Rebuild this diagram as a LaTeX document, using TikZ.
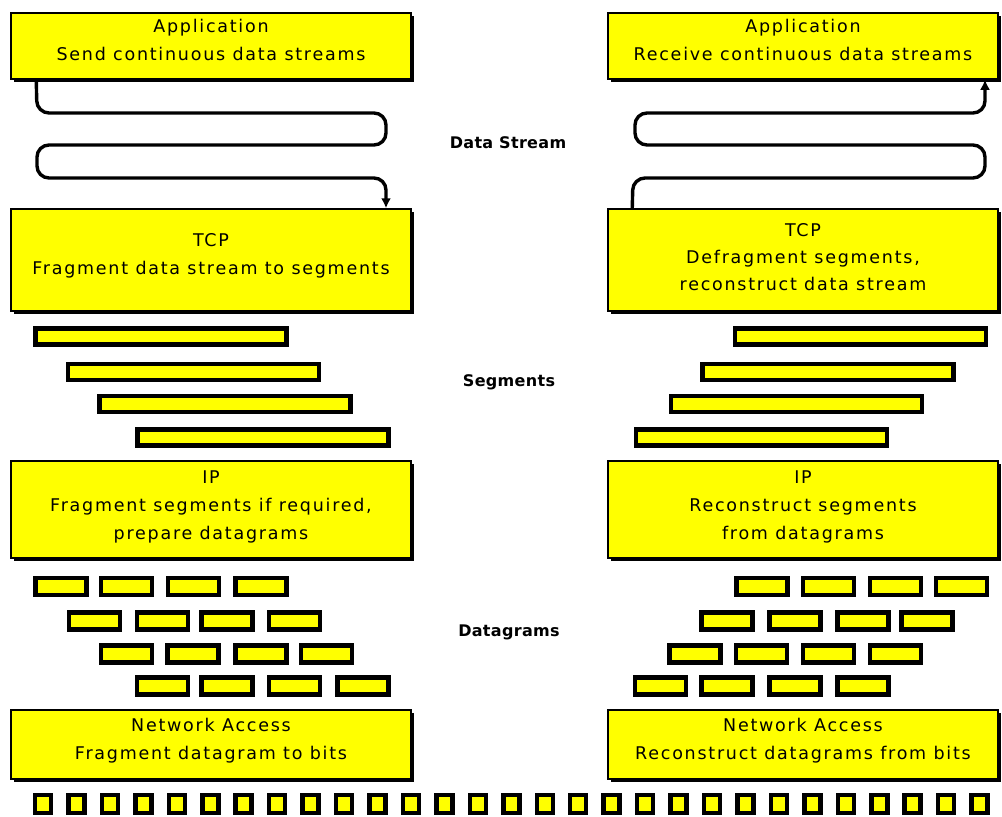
\documentclass[tikz,border=0pt]{standalone}
\usepackage{fontspec}
\setmainfont{DejaVu Sans}
\newfontfamily\boxfont[LetterSpace=10]{DejaVu Sans}
\newfontfamily\tagfont[LetterSpace=2]{DejaVu Sans Bold}
\usetikzlibrary{shadows,arrows.meta}

\definecolor{layer}{RGB}{255,255,0}

\tikzset{
  x=1pt, y=-1pt,
  layerbox/.style={draw=black, line width=1.5pt, fill=layer,
    minimum width=400pt, minimum height=66pt, inner sep=0pt,
    drop shadow={shadow xshift=3pt, shadow yshift=-3pt, opacity=1, fill=black}},
  layertext/.style={align=center, inner sep=0pt,
    font=\boxfont\fontsize{17.5}{28}\selectfont},
  segbox/.style={draw=black, line width=4.5pt, fill=layer,
    minimum width=251pt, minimum height=16pt, inner sep=0pt,
    drop shadow={shadow xshift=1.5pt, shadow yshift=-1.5pt, opacity=1, fill=black}},
  gram/.style={draw=black, line width=4.5pt, fill=layer,
    minimum width=51pt, minimum height=17pt, inner sep=0pt,
    drop shadow={shadow xshift=1.5pt, shadow yshift=-1.5pt, opacity=1, fill=black}},
  bitbox/.style={draw=black, line width=4.5pt, fill=layer,
    minimum width=16pt, minimum height=18pt, inner sep=0pt},
  tag/.style={font=\tagfont\fontsize{16}{18}\selectfont, inner sep=0pt},
  stream/.style={draw=black, line width=3.4pt, rounded corners=12pt,
    -{Latex[length=10pt,width=10pt]}},
}

\begin{document}
\begin{tikzpicture}
\useasboundingbox (0,0) rectangle (1002,817);

% ---- layer boxes, sending side ----
\node[layerbox] (appL) at (211,46) {};
\node[layerbox, minimum height=102pt] (tcpL) at (211,260) {};
\node[layerbox, minimum height=97pt] (ipL) at (211,509.5) {};
\node[layerbox, minimum height=69pt] (naL) at (211,744.5) {};

% ---- layer boxes, receiving side ----
\node[layerbox, minimum width=390pt] (appR) at (803,46) {};
\node[layerbox, minimum width=390pt, minimum height=102pt] (tcpR) at (803,260) {};
\node[layerbox, minimum width=390pt, minimum height=97pt] (ipR) at (803,509.5) {};
\node[layerbox, minimum width=390pt, minimum height=69pt] (naR) at (803,744.5) {};

% ---- layer texts ----
\node[layertext] (appLt) at ([yshift=6pt]appL.center)
  {Application\\Send continuous data streams};
\node[layertext] (tcpLt) at ([yshift=4pt]tcpL.center)
  {TCP\\Fragment data stream to segments};
\node[layertext] (ipLt) at ([yshift=3pt]ipL.center)
  {IP\\Fragment segments if required,\\prepare datagrams};
\node[layertext] (naLt) at ([yshift=4pt]naL.center)
  {Network Access\\Fragment datagram to bits};
\node[layertext] (appRt) at ([yshift=6pt]appR.center)
  {Application\\Receive continuous data streams};
\node[layertext, font=\boxfont\fontsize{17.5}{27}\selectfont] (tcpRt) at ([yshift=3pt]tcpR.center)
  {TCP\\Defragment segments,\\reconstruct data stream};
\node[layertext] (ipRt) at ([yshift=3pt]ipR.center)
  {IP\\Reconstruct segments\\from datagrams};
\node[layertext] (naRt) at ([yshift=4pt]naR.center)
  {Network Access\\Reconstruct datagrams from bits};

% ---- data stream between application and TCP ----
\draw[stream] ([xshift=26pt]appL.south west) -- (37,113) -- (386,113)
  -- (386,145) -- (37,145) -- (37,178) -- (386,178)
  -- (tcpL.north west -| 386,0);
\draw[stream] ([xshift=25pt]tcpR.north west) -- (633,178) -- (985,178)
  -- (985,145) -- (635,145) -- (635,113) -- (985,113)
  -- (appR.south west -| 985,0);
\node[tag] (lblStream) at (508,143) {Data Stream};

% ---- segments ----
\node[segbox] (sL1) at (161,336.5) {};
\node[segbox] (sL2) at (193.5,372) {};
\node[segbox] (sL3) at (225,404) {};
\node[segbox] (sL4) at (263,437.5) {};
\node[segbox] (sR1) at (860.5,336.5) {};
\node[segbox] (sR2) at (828,372) {};
\node[segbox] (sR3) at (796.5,404) {};
\node[segbox] (sR4) at (761.5,437.5) {};
\node[tag] (lblSeg) at (509,382) {Segments};

% ---- datagrams ----
\foreach \x [count=\i] in {61,126.5,193.5,261}
  \node[gram] (gL1\i) at (\x,586.5) {};
\foreach \x [count=\i] in {94.5,162.5,227,294.5}
  \node[gram] (gL2\i) at (\x,621) {};
\foreach \x [count=\i] in {126.5,193,261,326.5}
  \node[gram] (gL3\i) at (\x,654) {};
\foreach \x [count=\i] in {162.5,227,294.5,363}
  \node[gram] (gL4\i) at (\x,686) {};
\foreach \x [count=\i] in {762,828.5,895.5,961.5}
  \node[gram] (gR1\i) at (\x,586.5) {};
\foreach \x [count=\i] in {727,795,863,927}
  \node[gram] (gR2\i) at (\x,621) {};
\foreach \x [count=\i] in {695,761.5,828.5,895.5}
  \node[gram] (gR3\i) at (\x,654) {};
\foreach \x [count=\i] in {660.5,727,795,863}
  \node[gram] (gR4\i) at (\x,686) {};
\node[tag] (lblGram) at (509,632) {Datagrams};

% ---- bits on the wire ----
\foreach \k in {0,...,28}
  \node[bitbox] (bit\k) at ({43+33.45*\k},804) {};

\end{tikzpicture}
\end{document}
